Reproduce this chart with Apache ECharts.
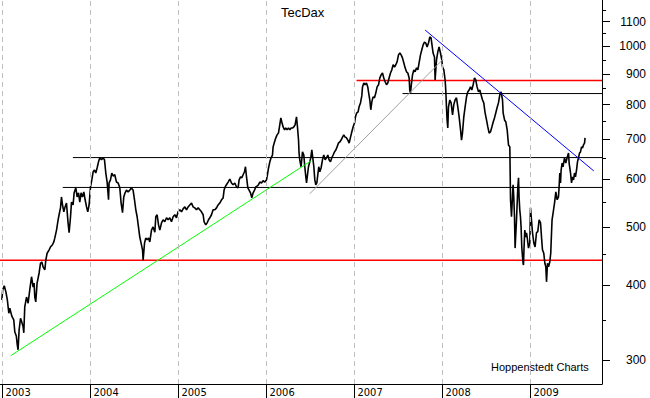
<!DOCTYPE html>
<html><head><meta charset="utf-8">
<script src="https://cdn.jsdelivr.net/npm/echarts@6/dist/echarts.min.js"></script>
<style>html,body{margin:0;padding:0;background:#fff}#c{width:650px;height:398px}</style>
</head><body><div id="c"></div>
<script>
const chartTitle = 'TecDax';
const sourceNote = 'Hoppenstedt Charts';
const years = [2003, 2004, 2005, 2006, 2007, 2008, 2009];
const yMajorTicks = [300, 400, 500, 600, 700, 800, 900, 1000, 1100];
const yMinorTicks = [350, 450, 550, 650, 750, 850, 950, 1050, 1150];

const dates = [
2002.992,2003.003,2003.020,2003.038,2003.055,2003.072,2003.083,2003.106,2003.128,2003.140,2003.157,2003.168,2003.177,2003.189,2003.205,2003.219,2003.234,2003.242,2003.253,2003.273,2003.291,2003.310,2003.330,2003.348,2003.359,2003.367,2003.378,2003.393,2003.416,2003.432,2003.447,2003.461,2003.481,2003.492,2003.507,2003.530,2003.545,2003.568,2003.583,2003.594,2003.614,2003.632,2003.643,2003.659,2003.670,2003.682,2003.697,2003.711,2003.727,
2003.745,2003.757,2003.773,2003.784,2003.802,2003.814,2003.833,2003.848,2003.864,2003.878,2003.893,2003.909,2003.924,2003.939,2003.955,2003.969,2003.984,2004.000,2004.015,2004.030,2004.045,2004.060,2004.075,2004.091,2004.106,2004.125,2004.143,2004.159,2004.174,2004.189,2004.205,2004.211,2004.227,2004.242,2004.257,2004.276,2004.295,2004.314,2004.333,2004.348,2004.364,2004.378,2004.393,2004.409,2004.427,2004.447,2004.466,2004.484,2004.500,2004.515,2004.530,2004.545,2004.560,2004.575,2004.591,2004.598,2004.614,2004.628,2004.643,2004.659,2004.674,2004.693,2004.711,2004.731,2004.742,2004.757,2004.773,2004.788,2004.807,2004.825,2004.844,2004.864,2004.882,2004.901,2004.920,2004.939,2004.958,2004.977,2004.995,2005.015,
2005.034,2005.052,2005.072,2005.091,2005.109,2005.128,2005.148,2005.166,2005.185,2005.205,2005.223,2005.242,2005.261,2005.280,2005.291,2005.310,2005.325,2005.341,2005.356,2005.375,2005.393,2005.413,2005.432,2005.450,2005.469,2005.489,2005.507,2005.518,2005.530,2005.545,2005.564,2005.583,2005.602,2005.620,2005.640,2005.659,2005.677,2005.689,2005.705,2005.720,2005.734,2005.750,2005.761,2005.773,2005.788,2005.802,2005.818,2005.833,2005.848,2005.864,2005.878,2005.893,2005.909,2005.924,2005.943,2005.961,2005.981,2006.000,2006.011,2006.023,2006.038,2006.052,2006.068,2006.075,2006.091,2006.106,2006.120,2006.136,2006.151,2006.163,2006.174,2006.189,2006.205,2006.219,2006.234,2006.250,2006.265,2006.280,2006.295,2006.310,2006.325,2006.341,2006.352,2006.364,2006.370,2006.378,2006.393,2006.409,2006.424,2006.435,2006.447,2006.455,2006.466,2006.477,2006.492,2006.503,2006.515,2006.526,2006.538,2006.549,2006.560,2006.572,2006.583,2006.594,2006.606,2006.620,2006.636,2006.651,2006.666,2006.682,2006.697,2006.711,2006.727,2006.742,2006.757,2006.773,2006.788,2006.802,2006.818,2006.833,2006.848,2006.864,2006.878,2006.893,2006.909,2006.924,2006.939,2006.955,2006.969,2006.984,2007.000,2007.011,2007.026,2007.041,2007.052,2007.068,
2007.083,2007.091,2007.106,2007.120,2007.136,2007.151,2007.159,2007.174,2007.185,2007.197,2007.211,2007.227,2007.242,2007.257,2007.273,2007.288,2007.302,2007.318,2007.333,2007.348,2007.364,2007.378,2007.393,2007.409,2007.424,2007.439,2007.455,2007.469,2007.484,2007.500,2007.515,2007.530,2007.545,2007.560,2007.575,2007.591,2007.606,2007.621,2007.628,2007.636,2007.648,2007.659,2007.674,2007.689,2007.705,2007.720,2007.734,2007.750,2007.765,2007.780,2007.795,2007.810,2007.825,2007.841,2007.856,2007.870,2007.878,2007.893,2007.909,2007.916,2007.932,2007.947,2007.961,2007.977,2007.992,2008.000,2008.015,2008.030,2008.038,2008.045,2008.052,2008.060,2008.068,2008.083,2008.098,2008.114,2008.128,2008.143,2008.159,2008.174,2008.189,2008.205,2008.216,2008.227,2008.242,2008.257,2008.273,2008.288,2008.303,2008.318,2008.333,2008.348,2008.364,2008.378,2008.393,2008.409,2008.424,2008.439,2008.455,2008.469,2008.484,2008.500,2008.515,2008.530,2008.545,2008.561,2008.576,2008.591,2008.606,2008.620,2008.636,2008.651,2008.666,2008.682,2008.689,2008.705,2008.720,2008.735,2008.750,2008.765,
2008.773,2008.784,2008.795,2008.802,2008.810,2008.818,2008.825,2008.833,2008.841,2008.856,2008.864,2008.870,2008.878,2008.886,2008.893,2008.901,2008.909,2008.916,2008.920,2008.927,2008.935,2008.947,2008.955,2008.966,2008.977,2008.992,2009.000,2009.011,2009.023,2009.038,2009.052,2009.068,2009.083,2009.098,2009.114,2009.125,2009.136,2009.151,2009.163,2009.174,2009.182,2009.193,2009.205,2009.219,2009.230,2009.239,2009.245,2009.257,2009.273,2009.288,2009.303,2009.318,2009.325,2009.333,2009.341,2009.348,2009.359,2009.370,2009.386,2009.401,2009.416,2009.432,2009.439,2009.455,2009.466,2009.477,2009.489,2009.500,2009.511,2009.523,2009.534,2009.545,2009.557,2009.568,2009.580,2009.591,2009.602,2009.614,2009.620
];
const tecdax = [
378,393,399,390,378,359,366,355,350,334,329,318,312,337,352,347,341,333,368,382,373,393,413,397,403,382,375,403,419,435,437,429,424,440,452,458,463,467,472,479,494,514,524,538,561,544,530,540,548,
508,489,520,550,544,570,581,561,570,550,570,561,572,555,540,530,544,583,599,618,622,615,627,642,652,647,652,647,615,594,555,592,599,615,608,611,594,592,581,548,528,561,570,576,572,576,581,576,555,534,520,500,481,470,458,440,470,479,476,479,472,494,500,490,520,524,504,494,508,514,510,518,514,518,510,520,524,518,530,534,
530,536,540,534,540,544,548,540,538,534,538,534,530,524,510,504,508,514,518,524,534,534,538,544,548,555,559,576,583,588,594,601,592,588,592,583,581,599,606,604,611,618,630,606,581,576,570,559,570,576,583,585,588,594,592,597,594,599,611,627,642,652,659,680,693,704,712,717,740,760,748,734,726,731,726,731,726,731,731,734,740,763,734,698,664,647,630,667,659,630,606,592,611,630,642,652,672,652,630,599,588,592,611,630,618,627,647,659,647,652,659,647,642,652,659,667,672,680,690,693,698,706,712,706,704,698,690,706,720,734,745,763,775,778,793,805,
827,856,869,863,869,856,840,814,784,808,824,821,836,856,863,886,896,903,886,873,863,869,886,903,914,932,924,932,942,968,975,968,957,939,921,907,903,886,846,836,869,896,914,907,921,914,939,968,987,1006,1017,1013,998,1013,1037,1033,1013,975,960,879,950,979,998,975,950,924,914,879,840,793,754,731,793,814,805,769,799,814,821,793,763,726,698,717,763,793,824,840,846,856,846,863,886,879,856,840,846,830,814,805,775,754,734,717,720,734,748,760,775,790,805,830,840,814,775,754,748,726,685,680,
555,520,561,588,561,520,461,461,514,583,604,561,534,520,500,463,446,435,432,463,494,481,489,476,461,470,538,514,489,470,463,489,491,514,508,481,458,452,435,429,405,435,429,437,452,489,514,528,548,572,555,561,583,615,592,622,639,630,652,639,652,664,639,615,592,606,599,615,606,622,642,652,664,667,680,677,685,690,704
];

// horizontal support / resistance levels
const levelValues = [439.8, 581.9, 652.6, 834.4, 877.1];
const levelStartYears = [2002.9716, 2003.685, 2003.800, 2007.545, 2007.023];
// trend lines (start/end year, start/end value)
const greenTrendYears = [2003.094, 2006.503];
const greenTrendValues = [305, 644];
const grayTrendYears = [2006.492, 2008.007];
const grayTrendValues = [568, 952];
const blueTrendYears = [2007.802, 2009.719];
const blueTrendValues = [1065, 620];

const X_MIN = 2002.9716, X_MAX = 2009.8125;
const Y_MIN = 273.6, Y_MAX = 1195;
const levelStyle = [
  {color: '#ff0000', width: 1.5},
  {color: '#000000', width: 1},
  {color: '#000000', width: 1},
  {color: '#000000', width: 1},
  {color: '#ff0000', width: 1.5}
];

const chart = echarts.init(document.getElementById('c'), null, {renderer: 'svg', width: 650, height: 398});

function seg(xs, ys) { return xs.map((x, i) => [x, ys[i]]); }
function plainLine(name, data, color, width, z) {
  return {
    name, type: 'line', data, showSymbol: false, symbol: 'none', silent: true,
    lineStyle: {color, width}, z: z, animation: false
  };
}

const series = [];
series.push({
  name: 'grid', type: 'line', data: [[years[0], yMajorTicks[0]]], showSymbol: false, symbol: 'none',
  lineStyle: {opacity: 0}, silent: true, z: 1,
  markLine: {
    silent: true, symbol: 'none', label: {show: false}, animation: false,
    lineStyle: {color: '#bdbdbd', type: [5, 4], width: 1},
    data: years.map(y => ({xAxis: y}))
  }
});
levelValues.forEach((v, i) => {
  series.push(plainLine('level' + i, [[levelStartYears[i], v], [X_MAX, v]], levelStyle[i].color, levelStyle[i].width, 2));
});
series.push(plainLine('TecDax', dates.map((d, i) => [d, tecdax[i]]), '#000000', 1.6, 3));
series.push(plainLine('trendGreen', seg(greenTrendYears, greenTrendValues), '#00ff00', 1, 4));
series.push(plainLine('trendGray', seg(grayTrendYears, grayTrendValues), '#a0a0a0', 1, 4));
series.push(plainLine('trendBlue', seg(blueTrendYears, blueTrendValues), '#0000ff', 1, 4));

const axisFont = "'Liberation Sans', Arial, sans-serif";
chart.setOption({
  animation: false,
  backgroundColor: '#ffffff',
  grid: {left: 0, right: 48, top: 0, bottom: 14, containLabel: false},
  xAxis: {
    type: 'value', min: X_MIN, max: X_MAX,
    axisLine: {show: true, onZero: false, lineStyle: {color: '#000', width: 1}},
    axisTick: {show: true, customValues: years, length: 14, lineStyle: {color: '#000', width: 1}},
    axisLabel: {
      show: true, customValues: years, formatter: v => String(Math.round(v)),
      align: 'left', padding: [0, 0, 0, 3], margin: 3, color: '#000',
      fontSize: 11, fontFamily: "'Liberation Sans Narrow', 'DejaVu Sans Condensed', sans-serif"
    },
    splitLine: {show: false}
  },
  yAxis: [{
    type: 'log', logBase: 10, min: Y_MIN, max: Y_MAX, position: 'right',
    axisLine: {show: true, lineStyle: {color: '#000', width: 1}},
    axisTick: {show: true, customValues: yMajorTicks, length: 8, lineStyle: {color: '#000'}},
    axisLabel: {
      show: true, customValues: yMajorTicks, formatter: v => String(Math.round(v)),
      align: 'right', margin: 44, color: '#000', fontSize: 12, fontFamily: axisFont
    },
    splitLine: {show: false}
  }, {
    type: 'log', logBase: 10, min: Y_MIN, max: Y_MAX, position: 'right',
    axisLine: {show: false},
    axisTick: {show: true, customValues: yMinorTicks, length: 4, lineStyle: {color: '#000'}},
    axisLabel: {show: false},
    splitLine: {show: false}
  }],
  graphic: [
    {type: 'text', left: 281, top: 6, silent: true,
     style: {text: chartTitle, fill: '#000', font: "13px 'Liberation Sans', Arial, sans-serif"}},
    {type: 'text', left: 491, top: 361, silent: true,
     style: {text: sourceNote, fill: '#000', font: "11px 'Liberation Sans Narrow', 'Liberation Sans', sans-serif"}}
  ],
  series: series
});
</script>
</body></html>
